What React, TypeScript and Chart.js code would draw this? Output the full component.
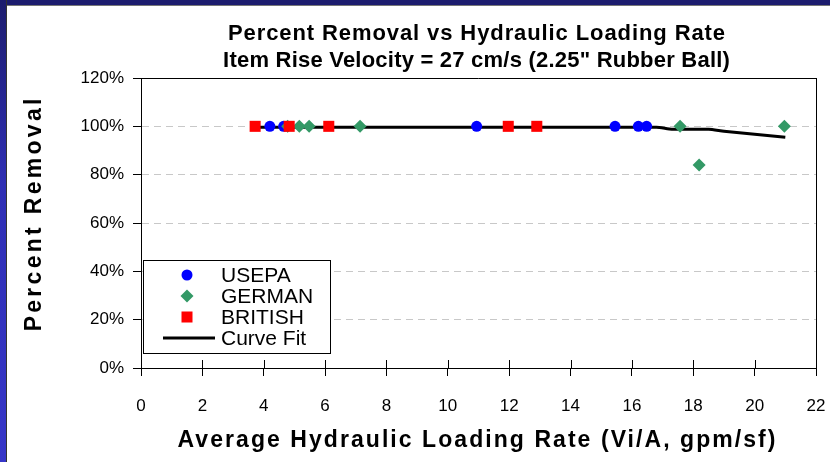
import React, { useEffect, useRef } from 'react';
import { Chart, registerables } from 'chart.js';

Chart.register(...registerables);

// ---- data ----
const usepaX = [4.2, 4.65, 10.94, 15.45, 16.21, 16.48];
const usepaY = [100, 100, 100, 100, 100, 100];
const germanX = [4.78, 5.16, 5.48, 7.14, 17.57, 18.19, 20.97];
const germanY = [100, 100, 100, 100, 100, 84, 100];
const britishX = [3.72, 4.83, 6.12, 11.97, 12.9];
const britishY = [100, 100, 100, 100, 100];
const fitX = [3.7, 16.8, 17.3, 18.5, 19.0, 21.0];
const fitY = [99.6, 99.6, 98.8, 98.8, 98.0, 95.5];

const xMin = 0;
const xMax = 22;
const xStep = 2;
const yMin = 0;
const yMax = 120;
const yStep = 20;

const titleLines = [
  'Percent Removal vs Hydraulic Loading Rate',
  'Item Rise Velocity = 27 cm/s (2.25" Rubber Ball)',
];
const xTitle = 'Average Hydraulic Loading Rate (Vi/A, gpm/sf)';
const yTitle = 'Percent Removal';
const seriesNames = ['USEPA', 'GERMAN', 'BRITISH', 'Curve Fit'];

const BLUE = '#0000ff';
const GREEN = '#339966';
const RED = '#ff0000';
const FONT = '"Liberation Sans", Arial, Helvetica, sans-serif';

const pts = (xs: number[], ys: number[]) => xs.map((x, i) => ({ x, y: ys[i] }));

// draw centered text spread to a target width via letter spacing
function spreadText(ctx: any, text: string, x: number, y: number, font: string, target: number) {
  ctx.font = font;
  ctx.letterSpacing = '0px';
  const w = ctx.measureText(text).width;
  const sp = Math.max(0, (target - w) / text.length);
  ctx.letterSpacing = `${sp}px`;
  ctx.textAlign = 'center';
  ctx.textBaseline = 'middle';
  ctx.fillText(text, x + sp / 2, y);
  ctx.letterSpacing = '0px';
}

const decorPlugin = {
  id: 'decor',
  afterDraw(chart: any) {
    const { ctx, chartArea: ca, scales } = chart;
    const xs = scales.x;
    ctx.save();
    // plot border top & right
    ctx.strokeStyle = '#000';
    ctx.lineWidth = 1;
    ctx.setLineDash([]);
    ctx.beginPath();
    ctx.moveTo(ca.left, Math.round(ca.top) + 0.5);
    ctx.lineTo(ca.right, Math.round(ca.top) + 0.5);
    ctx.moveTo(Math.round(ca.right) + 0.5, ca.top);
    ctx.lineTo(Math.round(ca.right) + 0.5, ca.bottom);
    // inner x tick halves
    for (let v = xMin; v <= xMax; v += xStep) {
      const px = Math.round(xs.getPixelForValue(v)) + 0.5;
      ctx.moveTo(px, ca.bottom - 8);
      ctx.lineTo(px, ca.bottom);
    }
    ctx.stroke();

    ctx.fillStyle = '#000';
    const cx = (ca.left + ca.right) / 2 - 2;
    // title
    spreadText(ctx, titleLines[0], cx, 34, `bold 22px ${FONT}`, 498);
    spreadText(ctx, titleLines[1], cx, 61, `bold 22px ${FONT}`, 507);

    // x axis title
    spreadText(ctx, xTitle, cx, 441, `bold 23px ${FONT}`, 600);

    // y axis title
    ctx.save();
    ctx.translate(35, 215);
    ctx.rotate(-Math.PI / 2);
    spreadText(ctx, yTitle, 0, 0, `bold 23px ${FONT}`, 236);
    ctx.restore();

    // legend
    const lx = 143.5, ly = 260.5, lw = 187, lh = 93;
    ctx.fillStyle = '#fff';
    ctx.fillRect(lx, ly, lw, lh);
    ctx.strokeStyle = '#000';
    ctx.lineWidth = 1;
    ctx.strokeRect(lx, ly, lw, lh);
    const rows = [275, 296, 317, 338];
    const mx = 187;
    // USEPA circle
    ctx.fillStyle = BLUE;
    ctx.beginPath();
    ctx.arc(mx, rows[0], 5.5, 0, Math.PI * 2);
    ctx.fill();
    // GERMAN diamond
    ctx.fillStyle = GREEN;
    ctx.beginPath();
    ctx.moveTo(mx, rows[1] - 6.5);
    ctx.lineTo(mx + 6.5, rows[1]);
    ctx.lineTo(mx, rows[1] + 6.5);
    ctx.lineTo(mx - 6.5, rows[1]);
    ctx.closePath();
    ctx.fill();
    // BRITISH square
    ctx.fillStyle = RED;
    ctx.fillRect(mx - 5.5, rows[2] - 5.5, 11, 11);
    // Curve fit line
    ctx.strokeStyle = '#000';
    ctx.lineWidth = 3;
    ctx.beginPath();
    ctx.moveTo(163, rows[3]);
    ctx.lineTo(215, rows[3]);
    ctx.stroke();
    ctx.fillStyle = '#000';
    ctx.font = `21px ${FONT}`;
    ctx.textAlign = 'left';
    ctx.textBaseline = 'middle';
    seriesNames.forEach((n, i) => ctx.fillText(n, 221, rows[i] + 1));
    ctx.restore();
  },
};

export default function App() {
  const ref = useRef<HTMLCanvasElement | null>(null);

  useEffect(() => {
    document.body.style.margin = '0';
    const canvas = ref.current!;
    const chart = new Chart(canvas, {
      type: 'scatter',
      data: {
        datasets: [
          {
            label: seriesNames[3],
            data: pts(fitX, fitY),
            showLine: true,
            borderColor: '#000',
            borderWidth: 3,
            pointRadius: 0,
            tension: 0.2,
            order: 4,
          } as any,
          {
            label: seriesNames[0],
            data: pts(usepaX, usepaY),
            pointStyle: 'circle',
            pointRadius: 5.5,
            backgroundColor: BLUE,
            borderColor: BLUE,
            borderWidth: 0,
            order: 3,
          },
          {
            label: seriesNames[1],
            data: pts(germanX, germanY),
            pointStyle: 'rectRot',
            pointRadius: 6.5,
            backgroundColor: GREEN,
            borderColor: GREEN,
            borderWidth: 0,
            order: 2,
          },
          {
            label: seriesNames[2],
            data: pts(britishX, britishY),
            pointStyle: 'rect',
            pointRadius: 7.8,
            backgroundColor: RED,
            borderColor: RED,
            borderWidth: 0,
            order: 1,
          },
        ],
      },
      options: {
        animation: false,
        responsive: false,
        devicePixelRatio: 1,
        layout: { padding: { top: 78, right: 14, left: 0, bottom: 0 } },
        plugins: {
          legend: { display: false },
          tooltip: { enabled: false },
          title: { display: false },
        },
        events: [],
        scales: {
          x: {
            type: 'linear',
            min: xMin,
            max: xMax,
            afterFit: (s: any) => {
              s.height = 94;
              s.paddingLeft = 0;
              s.paddingRight = 0;
            },
            ticks: {
              stepSize: xStep,
              padding: 20,
              color: '#000',
              font: { family: FONT, size: 17 },
              maxRotation: 0,
            },
            grid: {
              display: true,
              drawOnChartArea: false,
              drawTicks: true,
              tickLength: 8,
              tickColor: '#000',
              tickWidth: 1,
            },
            border: { display: true, color: '#000', width: 1 },
          },
          y: {
            type: 'linear',
            min: yMin,
            max: yMax,
            afterFit: (s: any) => {
              s.width = 141;
              s.paddingTop = 0;
              s.paddingBottom = 0;
            },
            ticks: {
              stepSize: yStep,
              padding: 9,
              color: '#000',
              font: { family: FONT, size: 17 },
              callback: (v: any) => `${v}%`,
            },
            grid: {
              display: true,
              drawOnChartArea: true,
              drawTicks: true,
              tickLength: 8,
              color: '#c8c8c8',
              lineWidth: 1,
              tickColor: '#000',
              tickWidth: 1,
              tickBorderDash: [],
            } as any,
            border: { display: true, color: '#000', width: 1, dash: [7, 5] },
          },
        },
      },
      plugins: [decorPlugin],
    });
    return () => chart.destroy();
  }, []);

  return (
    <div style={{ position: 'relative', width: 830, height: 462, background: '#fff', overflow: 'hidden' }}>
      <canvas ref={ref} width={830} height={462} style={{ display: 'block', width: 830, height: 462 }} />
      <div
        style={{
          position: 'absolute',
          left: 0,
          top: 0,
          width: 830,
          height: 5,
          background: '#1c1c6e',
          borderBottom: '1px solid #777',
        }}
      />
      <div
        style={{
          position: 'absolute',
          left: 0,
          top: 0,
          width: 6,
          height: 462,
          background: 'linear-gradient(#1c1c6e, #2e2eb4 40%, #3636c8)',
          borderRight: '1px solid #333',
        }}
      />
    </div>
  );
}
